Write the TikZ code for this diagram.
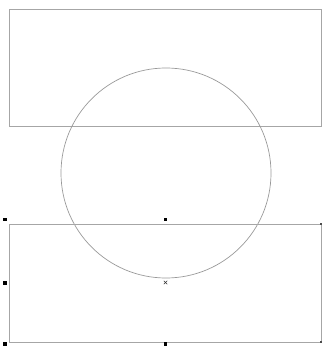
\documentclass[tikz,border=0pt]{standalone}
\usepackage{tikz}
\usetikzlibrary{positioning, shapes.misc}

\begin{document}
\begin{tikzpicture}[
  x=1pt, y=-1pt,
  frame/.style={draw=black!35, line width=1pt, inner sep=0pt, minimum width=312pt},
  ring/.style={circle, draw=black!40, line width=0.7pt, inner sep=0pt, minimum size=210pt},
  handle/.style={fill=black, inner sep=0pt, minimum size=3.2pt},
  tick/.style={fill=black!70, inner sep=0pt, minimum size=2pt},
  pivot/.style={cross out, draw=black!80, line width=0.5pt, inner sep=0pt, minimum size=3pt},
]
  \useasboundingbox (0,0) rectangle (322,347);

  % Shapes
  \node[frame, minimum height=117pt] (upper) at (165.5,67.8) {};
  \node[ring] (disc) at (166,173) {};
  \node[frame, minimum height=118pt] (lower) at (165,283) {};

  % Selection handles of the lower frame
  \node[handle] (htl) at (5,219.5) {};
  \node[handle] (htm) at (165.5,219.5) {};
  \node[handle] (hml) at (5,283) {};
  \node[handle] (hbl) at (5,344) {};
  \node[handle] (hbm) at (165.5,344) {};
  \node[tick] (htr) at (321,224) {};
  \node[tick] (hbr) at (321,342) {};
  \node[pivot] (hc) at (165.5,282.5) {};
\end{tikzpicture}
\end{document}
